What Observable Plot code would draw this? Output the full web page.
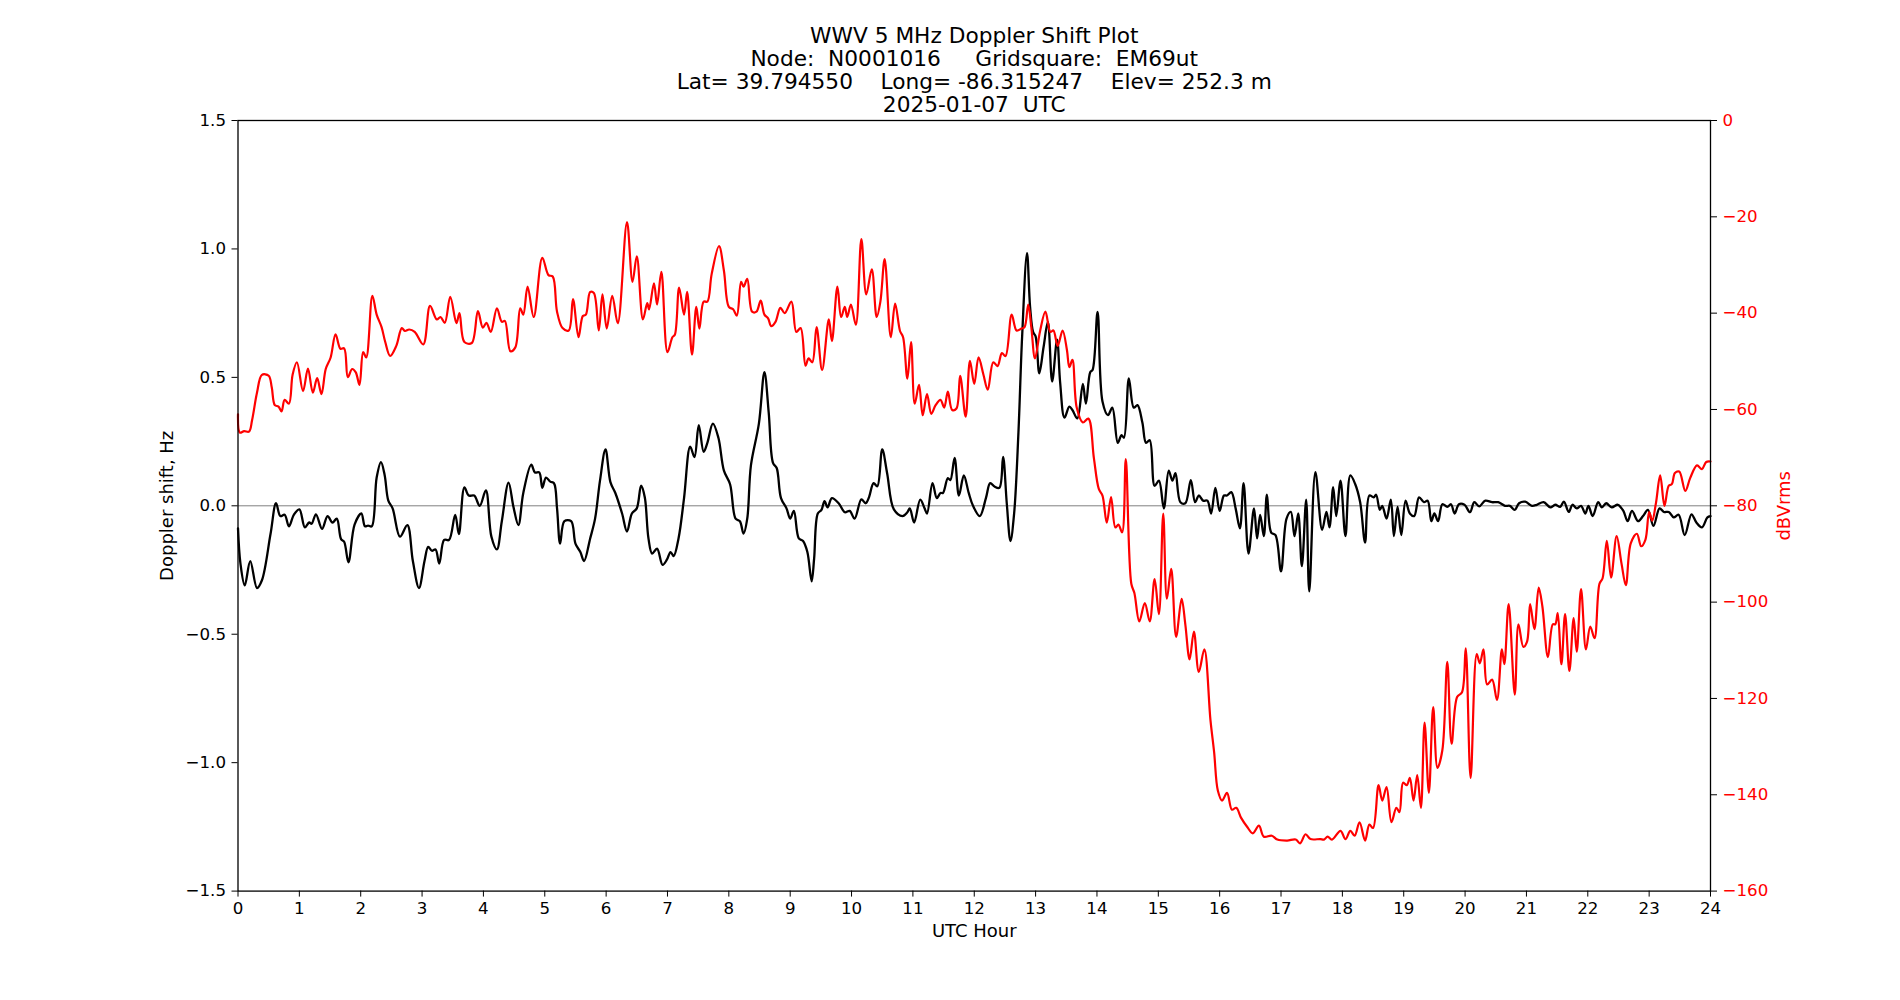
<!DOCTYPE html>
<html>
<head>
<meta charset="utf-8">
<script src="https://cdn.jsdelivr.net/npm/d3@7"></script>
<script src="https://cdn.jsdelivr.net/npm/@observablehq/plot@0.6"></script>
<style>
  html, body { margin: 0; padding: 0; background: white; }
  #chart svg { display: block; }
</style>
</head>
<body>
<div id="chart"></div>
<script>
// ---- Text ----
const titleLines = [
  "WWV 5 MHz Doppler Shift Plot",
  "Node:\u00a0 N0001016\u00a0\u00a0\u00a0\u00a0 Gridsquare:\u00a0 EM69ut",
  "Lat= 39.794550\u00a0\u00a0\u00a0 Long= -86.315247\u00a0\u00a0\u00a0 Elev= 252.3 m",
  "2025-01-07\u00a0 UTC"
];
const xLabel = "UTC Hour";
const yLabel = "Doppler shift, Hz";
const y2Label = "dBVrms";

// ---- Tick values ----
const xTicks = [0,1,2,3,4,5,6,7,8,9,10,11,12,13,14,15,16,17,18,19,20,21,22,23,24];
const hzTicks = [-1.5,-1.0,-0.5,0.0,0.5,1.0,1.5];
const dbTicks = [0,-20,-40,-60,-80,-100,-120,-140,-160];
const dbDomain = [-160, 0];

// ---- Doppler shift series (black, Hz) ----
const dopplerHour = [0,0.04,0.11,0.2,0.31,0.39,0.53,0.62,0.69,0.76,0.83,0.91,1.0,1.09,1.16,1.2,1.27,1.37,1.46,1.54,1.61,1.68,1.73,1.8,1.9,2.01,2.07,2.12,2.18,2.26,2.33,2.39,2.45,2.52,2.64,2.76,2.85,2.95,3.04,3.1,3.16,3.22,3.28,3.36,3.44,3.54,3.6,3.69,3.76,3.85,3.94,4.04,4.13,4.22,4.3,4.41,4.49,4.57,4.65,4.78,4.84,4.91,4.96,5.02,5.09,5.15,5.2,5.25,5.32,5.43,5.5,5.58,5.64,5.74,5.82,5.9,5.99,6.07,6.15,6.26,6.34,6.42,6.5,6.57,6.63,6.69,6.75,6.83,6.92,6.99,7.05,7.1,7.18,7.27,7.37,7.44,7.51,7.59,7.65,7.74,7.83,7.92,8.02,8.11,8.18,8.24,8.3,8.36,8.49,8.58,8.65,8.72,8.78,8.85,8.94,9.0,9.06,9.14,9.21,9.28,9.35,9.39,9.45,9.51,9.56,9.61,9.68,9.79,9.89,9.97,10.05,10.16,10.23,10.28,10.36,10.42,10.5,10.58,10.69,10.83,10.91,10.95,11.02,11.12,11.19,11.23,11.32,11.39,11.45,11.49,11.57,11.61,11.68,11.75,11.83,11.91,11.98,12.09,12.19,12.26,12.33,12.41,12.47,12.53,12.59,12.65,12.72,12.78,12.86,12.91,12.96,13.0,13.06,13.13,13.2,13.27,13.35,13.4,13.47,13.55,13.6,13.68,13.77,13.82,13.89,13.93,14.01,14.09,14.18,14.25,14.34,14.4,14.44,14.52,14.6,14.66,14.74,14.8,14.86,14.94,15.01,15.09,15.17,15.23,15.28,15.36,15.44,15.53,15.6,15.66,15.73,15.8,15.86,15.93,16.0,16.07,16.12,16.19,16.26,16.33,16.39,16.47,16.56,16.61,16.66,16.72,16.77,16.84,16.91,17.0,17.09,17.16,17.22,17.28,17.34,17.41,17.46,17.56,17.67,17.74,17.79,17.85,17.9,17.97,18.05,18.13,18.21,18.29,18.37,18.44,18.51,18.55,18.61,18.65,18.72,18.79,18.84,18.9,18.96,19.03,19.1,19.17,19.25,19.33,19.39,19.45,19.5,19.56,19.63,19.71,19.77,19.83,19.9,19.99,20.08,20.15,20.23,20.33,20.44,20.54,20.65,20.73,20.81,20.88,20.98,21.09,21.17,21.28,21.39,21.47,21.55,21.61,21.69,21.75,21.82,21.89,21.96,22.01,22.08,22.17,22.23,22.3,22.39,22.49,22.58,22.65,22.72,22.82,22.9,22.98,23.07,23.17,23.24,23.32,23.4,23.48,23.58,23.69,23.77,23.86,23.95,24.0];
const dopplerHz = [-0.088,-0.225,-0.31,-0.215,-0.32,-0.29,-0.11,0.01,-0.04,-0.035,-0.08,-0.035,-0.014,-0.084,-0.065,-0.07,-0.033,-0.09,-0.04,-0.065,-0.05,-0.13,-0.14,-0.22,-0.073,-0.03,-0.08,-0.077,-0.08,0.11,0.17,0.12,0.02,-0.01,-0.12,-0.075,-0.215,-0.32,-0.215,-0.16,-0.175,-0.17,-0.225,-0.133,-0.133,-0.035,-0.11,0.072,0.04,0.04,0.0,0.06,-0.12,-0.17,-0.06,0.09,-0.005,-0.075,0.05,0.16,0.13,0.13,0.07,0.11,0.094,0.088,-0.01,-0.147,-0.06,-0.06,-0.147,-0.18,-0.215,-0.127,-0.05,0.098,0.22,0.092,0.05,-0.03,-0.1,-0.03,-0.01,0.078,0.033,-0.127,-0.186,-0.167,-0.23,-0.21,-0.18,-0.196,-0.127,0.03,0.23,0.19,0.314,0.21,0.245,0.32,0.265,0.137,0.084,-0.05,-0.06,-0.108,-0.05,0.157,0.32,0.52,0.363,0.167,0.147,0.03,-0.01,-0.05,-0.02,-0.127,-0.137,-0.18,-0.294,-0.206,-0.03,-0.016,0.018,-0.006,0.03,0.01,-0.025,-0.02,-0.05,0.025,0.01,0.03,0.088,0.076,0.22,0.127,-0.014,-0.04,-0.025,-0.01,-0.065,0.024,-0.01,-0.03,0.088,0.03,0.05,0.05,0.108,0.1,0.186,0.04,0.118,0.05,0.0,-0.04,0.03,0.088,0.075,0.07,0.19,0.01,-0.137,-0.03,0.284,0.657,0.984,0.775,0.676,0.66,0.516,0.618,0.716,0.484,0.647,0.48,0.343,0.386,0.373,0.34,0.475,0.398,0.52,0.53,0.755,0.406,0.353,0.382,0.245,0.275,0.265,0.496,0.382,0.392,0.324,0.245,0.255,0.078,0.098,-0.01,0.137,0.098,0.127,0.014,0.01,0.1,0.014,0.04,0.02,0.02,-0.03,0.07,-0.02,0.04,0.04,0.053,-0.01,-0.088,0.088,-0.186,-0.01,-0.127,-0.035,-0.118,0.043,-0.104,-0.114,-0.255,-0.05,-0.024,-0.118,-0.03,-0.235,0.024,-0.333,0.131,-0.094,-0.024,-0.084,0.073,-0.04,0.098,-0.118,0.118,0.084,0.014,-0.143,0.04,0.033,0.043,-0.016,0.0,-0.05,0.024,-0.118,-0.004,-0.114,0.02,-0.03,-0.04,0.033,0.014,0.02,-0.06,-0.03,-0.06,0.006,-0.004,0.006,-0.03,0.006,0.004,-0.025,0.014,-0.002,0.02,0.014,0.014,0,0,-0.016,0.01,0.016,0,0.004,0.014,-0.006,0.004,-0.004,0.016,-0.024,0.004,-0.01,0,-0.03,0,-0.04,0.014,-0.006,0.01,-0.006,0.004,-0.02,-0.06,-0.02,-0.06,-0.04,-0.016,-0.078,-0.01,-0.024,-0.024,-0.045,-0.035,-0.114,-0.033,-0.065,-0.084,-0.045,-0.04];

// ---- Signal level series (red, dBVrms) ----
const powerHour = [0,0.03,0.1,0.18,0.23,0.31,0.39,0.5,0.55,0.6,0.66,0.71,0.76,0.83,0.89,0.96,1.06,1.14,1.22,1.29,1.36,1.43,1.51,1.59,1.67,1.73,1.79,1.86,1.92,1.98,2.04,2.09,2.19,2.26,2.34,2.4,2.48,2.58,2.67,2.72,2.79,2.88,3.02,3.13,3.24,3.3,3.37,3.46,3.56,3.61,3.69,3.81,3.91,3.99,4.05,4.12,4.22,4.3,4.35,4.44,4.52,4.6,4.65,4.72,4.82,4.96,5.06,5.13,5.2,5.29,5.39,5.46,5.55,5.62,5.67,5.74,5.8,5.88,5.94,6.01,6.1,6.19,6.34,6.43,6.5,6.6,6.67,6.7,6.78,6.83,6.9,7.0,7.08,7.12,7.19,7.27,7.32,7.4,7.47,7.52,7.59,7.65,7.72,7.84,7.92,8.0,8.07,8.13,8.2,8.24,8.3,8.38,8.45,8.52,8.58,8.64,8.69,8.76,8.84,8.91,9.02,9.1,9.17,9.25,9.3,9.36,9.43,9.52,9.63,9.68,9.77,9.83,9.89,9.93,9.99,10.07,10.16,10.24,10.33,10.41,10.47,10.54,10.64,10.71,10.79,10.84,10.91,10.97,11.03,11.1,11.16,11.23,11.3,11.37,11.45,11.51,11.57,11.64,11.71,11.77,11.86,11.93,12.0,12.07,12.15,12.22,12.31,12.38,12.45,12.51,12.61,12.69,12.77,12.82,12.88,12.93,12.99,13.07,13.16,13.24,13.29,13.36,13.44,13.51,13.55,13.6,13.67,13.77,13.86,13.95,14.03,14.09,14.16,14.23,14.3,14.35,14.41,14.47,14.56,14.61,14.69,14.78,14.86,14.94,15.01,15.08,15.14,15.21,15.29,15.38,15.44,15.51,15.58,15.66,15.75,15.85,15.91,15.97,16.04,16.12,16.2,16.27,16.35,16.45,16.54,16.64,16.72,16.85,16.94,17.1,17.24,17.31,17.4,17.48,17.64,17.7,17.76,17.83,17.97,18.05,18.13,18.2,18.28,18.37,18.44,18.5,18.59,18.65,18.72,18.8,18.88,18.93,18.99,19.05,19.1,19.16,19.22,19.28,19.34,19.41,19.48,19.55,19.63,19.71,19.78,19.87,19.95,20.01,20.09,20.19,20.24,20.3,20.36,20.44,20.52,20.6,20.64,20.71,20.81,20.87,20.95,21.01,21.06,21.13,21.2,21.26,21.35,21.43,21.47,21.51,21.57,21.63,21.7,21.77,21.82,21.89,21.97,22.04,22.11,22.19,22.24,22.31,22.38,22.47,22.55,22.62,22.7,22.8,22.87,22.94,23.0,23.05,23.11,23.18,23.25,23.32,23.37,23.42,23.49,23.59,23.67,23.78,23.86,23.93,24.0];
const powerDb = [-61,-64.8,-64.5,-64.6,-62.2,-56.5,-52.8,-53,-55.4,-59.1,-59.4,-60.4,-58,-58.8,-52.8,-50.2,-56.2,-51.5,-56.5,-53.5,-56.8,-51.6,-49.2,-44.4,-47.4,-47.3,-53.3,-51.6,-52.3,-54.9,-48.1,-49.2,-36.4,-40.3,-42.9,-46,-48.9,-46.8,-43.1,-43.7,-43.4,-43.9,-46.5,-38.5,-41.3,-40.8,-42,-36.6,-42.1,-40,-46,-46.2,-39.6,-43,-42,-43.9,-39,-41.8,-41.6,-47.9,-47.1,-39,-40.3,-34.5,-40.8,-28.5,-32.1,-32.4,-39.7,-43.1,-43.6,-37.1,-45,-40.6,-40.3,-35.6,-35.8,-43.6,-36.1,-43.2,-36.4,-42.1,-21.1,-33.5,-28.2,-41.3,-37.9,-39.2,-33.8,-38.2,-31.4,-48.1,-45,-44.5,-34.7,-40.3,-35.6,-48.6,-38.7,-43.2,-37.6,-37.6,-31.9,-26.1,-31.2,-38.7,-39.2,-40.5,-33.5,-34.5,-32.9,-39.7,-39.7,-37.4,-40.3,-41.1,-42.7,-41.8,-38.9,-40,-37.6,-43.9,-43.1,-50.9,-49.4,-50.2,-42.9,-51.8,-41.3,-45.8,-34.5,-40.8,-38.7,-40.8,-38.2,-42.4,-24.6,-36.1,-30.9,-40.8,-37.6,-28.8,-45,-38,-43.7,-45,-53.6,-46,-58.8,-54.9,-61.2,-56.8,-60.9,-59.1,-58,-59.6,-56.3,-60.1,-59.8,-53,-61.5,-49.9,-54.7,-49.2,-52.8,-55.9,-50.2,-51,-48.3,-48.9,-40.3,-43.6,-43.2,-42.9,-38.2,-42.9,-49.4,-43.9,-39.7,-43.9,-43.6,-46.8,-43.6,-47.6,-51.2,-49.7,-59.6,-62.7,-61.9,-70.1,-76.5,-77.9,-83.5,-78.2,-84.5,-83.9,-85.5,-70.3,-96.2,-98.1,-104,-100.2,-104,-95.2,-102.5,-81.6,-99.3,-93.1,-107.2,-99.3,-104.6,-111.9,-106.1,-114.5,-109.8,-124.5,-131.2,-139.1,-141.2,-139.6,-143.1,-142.7,-144.8,-146.7,-148,-146.4,-148.7,-148.5,-149.3,-149.5,-149.3,-150.1,-148.2,-149.2,-149.2,-149.3,-148.7,-149.3,-147.5,-149.2,-147.5,-148.5,-145.7,-149.5,-146.2,-146.9,-138,-141.2,-138.4,-145.7,-142.7,-143.6,-137.5,-138,-136.5,-141.2,-135.9,-142.7,-125,-139.6,-121.8,-134.4,-130.7,-112.4,-129.4,-119.7,-118.7,-109.6,-136.5,-110.8,-112.7,-109.8,-117.1,-116.1,-120.3,-109.8,-112.9,-100.4,-119.2,-104.6,-109.3,-108.2,-100.4,-105.6,-97,-100.9,-111.4,-104.6,-104.6,-102.3,-112.9,-102.5,-114.3,-103.3,-110.3,-97.3,-109.8,-105.1,-107.5,-96.2,-95.1,-87.3,-94.9,-86.3,-92,-96.5,-87.8,-85.8,-88.4,-87,-81.3,-83.1,-79.5,-73.7,-80,-75.8,-75.5,-73.2,-72.9,-76.9,-74.2,-71.6,-72.4,-70.9,-70.8];

// ---- Build tables ----
const doppler = dopplerHour.map((h, i) => ({hour: h, hz: dopplerHz[i]}));
const power = powerHour.map((h, i) => ({hour: h, db: powerDb[i]}));

const hzDomain = [-1.5, 1.5];
// secondary (right) scale: map dBVrms onto the Hz scale range
const dbToHz = d3.scaleLinear().domain(dbDomain).range(hzDomain);
const hzToDb = dbToHz.invert;
const minus = s => String(s).replace("-", "\u2212");

const chart = Plot.plot({
  width: 1900,
  height: 1000,
  marginLeft: 237.5,
  marginRight: 190,
  marginTop: 120,
  marginBottom: 109.4,
  style: {fontFamily: "'DejaVu Sans', sans-serif", fontSize: "16.67px", color: "black", background: "white"},
  x: {domain: [0, 24]},
  y: {domain: hzDomain},
  marks: [
    Plot.ruleY([0], {stroke: "#808080", strokeWidth: 1}),
    Plot.line(doppler, {x: "hour", y: "hz", stroke: "black", strokeWidth: 2.3, curve: "catmull-rom"}),
    Plot.line(power, {x: "hour", y: d => dbToHz(d.db), stroke: "red", strokeWidth: 2.2, curve: "catmull-rom"}),
    Plot.frame({stroke: "black", strokeWidth: 1.3}),
    Plot.axisX({anchor: "bottom", ticks: xTicks, tickFormat: d => String(d), tickSize: 6, tickPadding: 5, label: null, fill: "black", stroke: "black"}),
    Plot.axisY({anchor: "left", ticks: hzTicks, tickFormat: d => minus(d.toFixed(1)), tickSize: 6, tickPadding: 6, label: null, fill: "black", stroke: "black"}),
    Plot.axisY({anchor: "right", ticks: dbTicks.map(dbToHz), tickFormat: v => minus(Math.round(hzToDb(v))), tickSize: 6, tickPadding: 6, label: null, fill: "red", stroke: "black"}),
    Plot.text([xLabel], {frameAnchor: "bottom", dy: 40, textAnchor: "middle", lineAnchor: "middle", fontSize: 18, fill: "black"}),
    Plot.text([yLabel], {frameAnchor: "left", dx: -70.5, rotate: -90, textAnchor: "middle", lineAnchor: "middle", fontSize: 18, fill: "black"}),
    Plot.text([y2Label], {frameAnchor: "right", dx: 74, rotate: -90, textAnchor: "middle", lineAnchor: "middle", fontSize: 18, fill: "red"}),
    Plot.text([titleLines.join("\n")], {frameAnchor: "top", dy: -50.5, textAnchor: "middle", lineAnchor: "middle", lineHeight: 1.06, fontSize: 21.7, fill: "black"})
  ]
});
document.getElementById("chart").appendChild(chart);
</script>
</body>
</html>
